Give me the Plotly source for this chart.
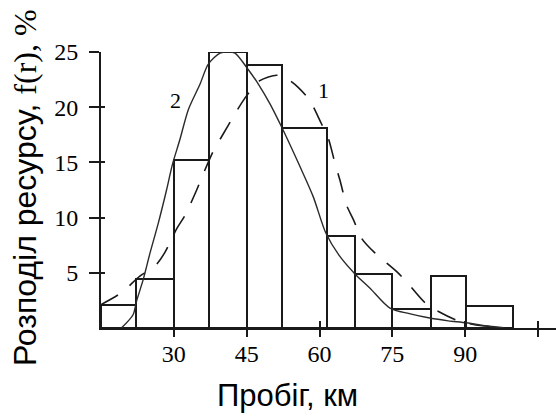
import plotly.graph_objects as go

# Mileage bins (km) and share of resource in each bin (%)
bin_edges = [15, 22.2, 30, 37.3, 45, 52.3, 61.5, 67.3, 75, 83, 90.1, 99.8]
bin_freq = [2.1, 4.4, 15.2, 25.0, 23.8, 18.1, 8.35, 4.9, 1.75, 4.75, 1.95]

# Curve 1: theoretical distribution (dashed)
curve1_x = [14.9, 19.2, 23.0, 26.1, 28.1, 30.6, 32.3, 34.7, 36.0, 38.1, 39.8, 42.6,
            44.6, 47.7, 51.2, 53.2, 55.6, 58.0, 60.4, 61.8, 63.2, 64.2, 65.6, 67.0,
            68.7, 71.4, 75.9, 77.9, 81.7, 84.5, 88.9, 93.5, 97.9]
curve1_y = [2.1, 3.2, 4.7, 5.6, 6.8, 9.0, 10.2, 12.5, 13.9, 16.0, 17.3, 19.4,
            20.8, 22.4, 22.9, 22.6, 21.8, 20.6, 18.5, 17.2, 14.9, 13.4, 11.1, 9.8,
            8.1, 6.8, 5.1, 4.2, 2.3, 1.5, 0.6, 0.2, 0.08]

# Curve 2: fitted distribution (solid)
curve2_x = [19.2, 21.6, 22.3, 23.7, 25.1, 26.8, 28.5, 29.7, 31.2, 33.0, 35.4, 37.1,
            39.5, 41.2, 42.6, 45.0, 47.4, 49.8, 52.2, 56.0, 58.7, 61.3, 64.0, 67.3,
            70.4, 74.5, 78.5, 82.7, 86.5, 90.3, 94.0, 97.9]
curve2_y = [0.0, 1.2, 2.4, 4.4, 6.8, 9.5, 12.5, 14.8, 17.0, 19.8, 22.1, 23.9,
            24.9, 25.0, 24.9, 23.6, 22.1, 20.3, 18.2, 14.6, 11.9, 8.6, 6.6, 4.9,
            3.6, 1.8, 1.3, 0.9, 0.65, 0.47, 0.2, 0.02]

x_ticks = [30, 45, 60, 75, 90, 105]
x_tick_text = ["30", "45", "60", "75", "90", ""]
y_ticks = [5, 10, 15, 20, 25]

ink = "#1a1a1a"
serif = "Liberation Serif"
sans = "Liberation Sans"

bar_x = [(a + b) / 2 for a, b in zip(bin_edges[:-1], bin_edges[1:])]
bar_w = [b - a for a, b in zip(bin_edges[:-1], bin_edges[1:])]

fig = go.Figure()
fig.add_trace(go.Bar(
    x=bar_x, y=bin_freq, width=bar_w,
    marker=dict(color="white", line=dict(color=ink, width=2)),
    cliponaxis=False, showlegend=False, hoverinfo="skip",
))
fig.add_trace(go.Scatter(
    x=curve1_x, y=curve1_y, mode="lines",
    line=dict(color=ink, width=1.6, dash="20px,15px", shape="spline", smoothing=0.8),
    cliponaxis=False, showlegend=False,
))
fig.add_trace(go.Scatter(
    x=curve2_x, y=curve2_y, mode="lines",
    line=dict(color="#2a2a2a", width=1.4, shape="spline", smoothing=0.8),
    cliponaxis=False, showlegend=False,
))
# empty trace on the overlay axes that carry the inner half of the tick marks
fig.add_trace(go.Scatter(x=[None], y=[None], xaxis="x2", yaxis="y2",
                         showlegend=False, hoverinfo="skip"))

x_range = [15, 108.7]
y_range = [0, 25]
tick_font = dict(family=serif, size=24, color="black")

fig.update_layout(
    width=556, height=417,
    margin=dict(l=101, r=0, t=51.5, b=88.5),
    paper_bgcolor="white", plot_bgcolor="white",
    bargap=0,
    xaxis=dict(range=x_range, tickvals=x_ticks, ticktext=x_tick_text,
               ticks="outside", ticklen=7, tickwidth=2, tickcolor=ink,
               showline=True, linecolor=ink, linewidth=2,
               showgrid=False, zeroline=False, tickfont=tick_font,
               ticklabelstandoff=-4),
    yaxis=dict(range=y_range, tickvals=y_ticks,
               ticks="outside", ticklen=10, tickwidth=2, tickcolor=ink,
               showline=True, linecolor=ink, linewidth=2,
               showgrid=False, zeroline=False, tickfont=tick_font,
               ticklabelstandoff=6),
    xaxis2=dict(range=x_range, overlaying="x", anchor="y2", tickvals=x_ticks,
                ticks="inside", ticklen=7, tickwidth=2, tickcolor=ink,
                showticklabels=False, showline=False, showgrid=False, zeroline=False),
    yaxis2=dict(range=y_range, overlaying="y", anchor="x2", tickvals=y_ticks,
                ticks="inside", ticklen=4, tickwidth=2, tickcolor=ink,
                showticklabels=False, showline=False, showgrid=False, zeroline=False),
)

fig.add_annotation(
    text="Розподіл ресурсу, <span style=\"font-family:Liberation Serif\">f(r), %</span>",
    xref="paper", yref="paper", x=-0.168, y=0.509, textangle=-90,
    showarrow=False, font=dict(family=sans, size=32, color="black"),
    xanchor="center", yanchor="middle",
)
fig.add_annotation(
    text="Пробіг, км", xref="paper", yref="paper", x=0.41, y=-0.244,
    showarrow=False, font=dict(family=sans, size=31, color="black"),
    xanchor="center", yanchor="middle",
)
fig.add_annotation(text="2", x=30.4, y=20.6, showarrow=False,
                   font=dict(family=serif, size=22, color="black"))
fig.add_annotation(text="1", x=60.8, y=21.5, showarrow=False,
                   font=dict(family=serif, size=22, color="black"))

fig.write_html("out.html")
